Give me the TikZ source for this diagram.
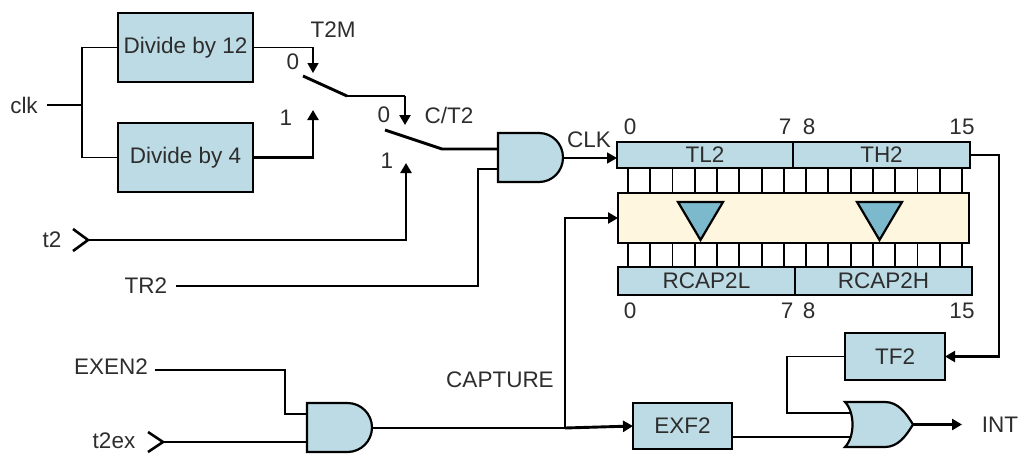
\documentclass[tikz,border=0pt]{standalone}
\usepackage{fontspec}
\setmainfont{Liberation Sans}
\usetikzlibrary{arrows.meta}
\definecolor{boxblue}{RGB}{189,219,229}
\definecolor{capyel}{RGB}{255,246,224}
\definecolor{trifill}{RGB}{125,185,205}
\definecolor{txt}{RGB}{45,45,45}
\tikzset{
  lbl/.style={text=txt, font=\fontsize{22.5}{26}\selectfont, inner sep=0pt, outer sep=0pt},
  blk/.style={draw, fill=boxblue, line width=2.5pt, inner sep=0pt, outer sep=0pt, lbl},
  reg/.style={blk, minimum height=26pt},
  thk/.style={line width=2.9pt},
  thn/.style={line width=1.6pt},
  mid/.style={line width=2.1pt},
  arr/.style={-{Triangle[length=10pt,width=11pt]}},
  gate/.style={fill=boxblue, line width=2.2pt},
  trig/.style={fill=trifill, line width=2.2pt, line join=miter},
  chev/.style={line width=2.6pt, line join=miter},
}
\begin{document}
\begin{tikzpicture}[x=1pt,y=-1pt]
\useasboundingbox (0,0) rectangle (1020,453);

% ---------- labels ----------
\node[lbl] (clk) at (24,105) {clk};
\node[lbl] (t2m) at (333,30) {T2M};
\node[lbl] (s1z) at (293,62) {0};
\node[lbl] (s1o) at (286,118) {1};
\node[lbl] (s2z) at (384,115) {0};
\node[lbl] (ct2) at (449,115) {C/T2};
\node[lbl] (s2o) at (387,161) {1};
\node[lbl] (t2) at (52,240) {t2};
\node[lbl] (tr2) at (146,286) {TR2};
\node[lbl] (exen) at (111,367) {EXEN2};
\node[lbl] (t2ex) at (114,441) {t2ex};
\node[lbl] (capl) at (500,380) {CAPTURE};
\node[lbl] (clkl) at (589,140) {CLK};
\node[lbl] (int) at (1000,425) {INT};
% bit numbers
\node[lbl] (n0a) at (630,127) {0};
\node[lbl] (n7a) at (785,127) {7};
\node[lbl] (n8a) at (809,127) {8};
\node[lbl] (n15a) at (962,127) {15};
\node[lbl] (n0b) at (630,311) {0};
\node[lbl] (n7b) at (787,311) {7};
\node[lbl] (n8b) at (809,311) {8};
\node[lbl] (n15b) at (962,311) {15};

% ---------- boxes ----------
\node[blk, minimum width=135pt, minimum height=69pt] (d12) at (185.5,47.5) {Divide by 12};
\node[blk, minimum width=135pt, minimum height=69pt] (d4) at (185.5,157.5) {Divide by 4};
\node[blk, minimum width=99pt, minimum height=46pt] (exf) at (682.5,426) {EXF2};
\node[blk, minimum width=100pt, minimum height=47pt] (tf) at (895,356.5) {TF2};

% ---------- register ----------
\foreach \i in {0,...,15} {
  \draw[line width=1.9pt] ({628+22.27*\i},168) -- ++(0,25);
  \draw[line width=1.9pt] ({628+22.27*\i},243) -- ++(0,24);
}
\node[reg, minimum width=176pt] (tl2) at (705,155) {TL2};
\node[reg, minimum width=177pt] (th2) at (881.5,155) {TH2};
\node[reg, minimum width=177pt, minimum height=28pt] (rl) at (706.5,281) {RCAP2L};
\node[reg, minimum width=177pt, minimum height=28pt] (rh) at (883.5,281) {RCAP2H};
\node[draw, fill=capyel, line width=1.3pt, minimum width=351pt, minimum height=50pt, inner sep=0pt, outer sep=0pt] (cap) at (793.5,218) {};
\draw[trig] (678,202) -- (723,202) -- (700.5,240) -- cycle;
\draw[trig] (857,202) -- (902,202) -- (879.5,240) -- cycle;

% ---------- gates ----------
\draw[gate] (498,133) -- (539,133) .. controls (552.5,133) and (563,144) .. (563,157.5)
  .. controls (563,171) and (552.5,182) .. (539,182) -- (498,182) -- cycle;
\coordinate (a1i1) at (498,149);
\coordinate (a1i2) at (498,169);
\coordinate (a1o) at (563,158);

\draw[gate] (307,403) -- (347.5,403) .. controls (361,403) and (372,414) .. (372,427.5)
  .. controls (372,441) and (361,452) .. (347.5,452) -- (307,452) -- cycle;
\coordinate (a2i1) at (307,414);
\coordinate (a2i2) at (307,442);
\coordinate (a2o) at (372,428);

\draw[gate] (845,402) -- (885,402) .. controls (898,402) and (906,413) .. (913,424.5)
  .. controls (906,436) and (898,447) .. (885,447) -- (845,447)
  .. controls (855,437) and (855,412) .. (845,402) -- cycle;
\coordinate (oi1) at (851,413);
\coordinate (oi2) at (851,437);
\coordinate (oo) at (913,424.5);

% ---------- switch coordinates ----------
\coordinate (jc) at (82,105);
\coordinate (s1a) at (313,73);
\coordinate (s1b) at (313,110);
\coordinate (l1a) at (303,76);
\coordinate (l1b) at (347,96);
\coordinate (s2t) at (405,96);
\coordinate (s2a) at (405,125);
\coordinate (l2a) at (385,130);
\coordinate (l2b) at (442,149);
\coordinate (s2b) at (406,163);
\coordinate (tr2x) at (478,169);
\coordinate (jcap) at (565,428);
\coordinate (fb) at (999,155);
\coordinate (tfx) at (787,413);
\coordinate (exx) at (285,414);
\coordinate (exs) at (155,370);

% chevrons
\coordinate (t2c) at (88,240);
\coordinate (t2exc) at (163,442);
\draw[chev] (73,229) -- (t2c) -- (73,251);
\draw[chev] (148,432) -- (t2exc) -- (148,452);

% ---------- connectors ----------
\draw[thk] (clk.east) ++(9,0) -- (jc);
\draw[thn] (d12.west) -| (jc) |- (d4.west);
\draw[thn, arr] (d12.east) -| (s1a);
\draw[thk, arr] (d4.east) -| (s1b);
\draw[thk] (l1a) -- (l1b);
\draw[thn] (l1b) -- (s2t);
\draw[thk, arr] (s2t) -- (s2a);
\draw[thk] (l2a) -- (l2b) -- (a1i1);
\draw[thk, arr] (t2c) -| (s2b);
\draw[thk] (tr2.east) ++(9,0) -| (tr2x) -- (a1i2);
\draw[thn, arr] (a1o) -- (a1o -| tl2.west);
\draw[mid, arr] (th2.east) -- (fb) |- (tf.east);
\draw[thn] (exs) -| (exx) -- (a2i1);
\draw[thk] (t2exc) -- (a2i2);
\draw[thk] (a2o) -- (jcap);
\draw[thk, arr] (jcap) -- (exf.west);
\draw[thk, arr] (jcap) |- (cap.west);
\draw[thk] (exf.east |- oi2) -- (oi2);
\draw[thn] (tf.west) -| (tfx) -- (oi1);
\draw[thk, arr] (oo) -- (962,424.5);
\end{tikzpicture}
\end{document}
